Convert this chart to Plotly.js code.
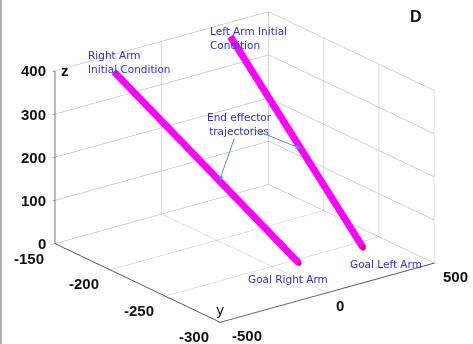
<!DOCTYPE html>
<html>
<head>
<meta charset="utf-8">
<script src="https://cdn.plot.ly/plotly-3.0.1.min.js"></script>
<style>html,body{margin:0;padding:0;background:#fff;}#plot{width:473px;height:344px;}</style>
</head>
<body>
<div id="plot"></div>
<script>
// Right arm end-effector trajectory (initial -> goal)
const rightX = [-301, 100];
const rightY = [-165, -255];
const rightZ = [389, 0];
// Left arm end-effector trajectory (initial -> goal)
const leftX = [243, 385];
const leftY = [-165, -258];
const leftZ = [396, 0];
// Axis ticks
const xTicks = [-500, 0, 500];
const yTicks = [-150, -200, -250, -300];
const zTicks = [0, 100, 200, 300, 400];
const xRange = [-500, 500];
const yRange = [-300, -150];
const zRange = [0, 400];

const magenta = '#ff00ff';
const traces = [
  {type:'scatter3d', mode:'lines', x:rightX, y:rightY, z:rightZ,
   line:{color:magenta, width:14}, hoverinfo:'skip', showlegend:false},
  {type:'scatter3d', mode:'lines', x:leftX, y:leftY, z:leftZ,
   line:{color:magenta, width:14}, hoverinfo:'skip', showlegend:false},
  {type:'scatter3d', mode:'markers', x:[rightX[1], leftX[1]], y:[rightY[1], leftY[1]], z:[rightZ[1], leftZ[1]],
   marker:{color:'#d0104a', size:3}, hoverinfo:'skip', showlegend:false}
];

function ax(range, ticks) {
  return {
    range: range, tickvals: ticks, autorange:false, showticklabels:false,
    showgrid:true, gridcolor:'#aaaaaa', gridwidth:1,
    showline:true, linecolor:'#555', linewidth:2,
    zeroline:false, showbackground:false, showspikes:false,
    ticks:'outside', ticklen:3, tickcolor:'#555',
    title:{text:''}
  };
}

const blue = '#2a2aff';
const annFont = {family:'DejaVu Sans, sans-serif', size:10.5, color:blue};
const tickFont = {family:'Liberation Sans, Arial, sans-serif', size:15, color:'#111', weight:'bold'};
const dir = [-0.565, -0.741, 0.363];
const L = 1.2;

// tick labels as horizontal text anchored to the axis edges
const tickAnns = [];
zTicks.forEach(v => tickAnns.push({x:xRange[0], y:yRange[1], z:v, text:String(v), showarrow:false,
  xanchor:'right', yanchor:'middle', xshift:-7, font:tickFont}));
yTicks.forEach(v => tickAnns.push({x:xRange[0], y:v, z:zRange[0], text:String(v), showarrow:false,
  xanchor:'right', yanchor:'middle', xshift:-9, yshift: v===yTicks[0] ? -15 : -14, font:tickFont}));
xTicks.forEach(v => tickAnns.push({x:v, y:yRange[0], z:zRange[0], text:String(v), showarrow:false,
  xanchor:'left', yanchor:'middle', xshift: v===xTicks[0] ? 10 : 7, yshift:-13, font:tickFont}));

const fR = 0.57, fL = 0.53;
const layout = {
  width:473, height:344,
  margin:{l:16, r:0, t:0, b:10},
  paper_bgcolor:'#fff',
  showlegend:false,
  scene:{
    domain:{x:[0,1], y:[0,1]},
    xaxis: ax(xRange, xTicks),
    yaxis: ax(yRange, yTicks),
    zaxis: ax(zRange, zTicks),
    aspectmode:'manual',
    aspectratio:{x:1.61, y:1.633, z:1.11},
    camera:{eye:{x:dir[0]*L, y:dir[1]*L, z:dir[2]*L}, up:{x:0,y:0,z:1}, center:{x:0,y:0,z:0},
            projection:{type:'orthographic'}},
    annotations: tickAnns.concat([
      {x:rightX[0], y:rightY[0], z:rightZ[0], text:'Right Arm<br>Initial Condition', showarrow:false,
       xanchor:'left', yanchor:'middle', xshift:-28, yshift:10, align:'left', font:annFont},
      {x:leftX[0], y:leftY[0], z:leftZ[0], text:'Left Arm Initial<br>Condition', showarrow:false,
       xanchor:'left', yanchor:'middle', xshift:-22, yshift:-2, align:'left', font:annFont},
      {x:rightX[1], y:rightY[1], z:rightZ[1], text:'Goal Right Arm', showarrow:false,
       xanchor:'left', yanchor:'middle', xshift:-53, yshift:-16, font:annFont},
      {x:leftX[1], y:leftY[1], z:leftZ[1], text:'Goal Left Arm', showarrow:false,
       xanchor:'left', yanchor:'middle', xshift:-15, yshift:-16, font:annFont},
      {x:rightX[0]+fR*(rightX[1]-rightX[0]), y:rightY[0]+fR*(rightY[1]-rightY[0]), z:rightZ[0]+fR*(rightZ[1]-rightZ[0]),
       text:'End effector<br>trajectories', showarrow:true,
       ax:20, ay:-57, arrowhead:2, arrowsize:1, arrowwidth:1, arrowcolor:'#5a8ccc', font:annFont},
      {x:leftX[0]+fL*(leftX[1]-leftX[0]), y:leftY[0]+fL*(leftY[1]-leftY[0]), z:leftZ[0]+fL*(leftZ[1]-leftZ[0]),
       text:' ', showarrow:true,
       ax:-52, ay:-21, arrowhead:2, arrowsize:1, arrowwidth:1, arrowcolor:'#5a8ccc', font:annFont},
      {x:xRange[0], y:yRange[1], z:zRange[1], text:'z', showarrow:false, xanchor:'left', xshift:4,
       font:{family:'Liberation Sans, Arial, sans-serif', size:15, color:'#111', weight:'bold'}},
      {x:xRange[0], y:yRange[0], z:zRange[0], text:'y', showarrow:false, yshift:12,
       font:{family:'DejaVu Sans, sans-serif', size:14, color:'#111'}}
    ])
  },
  annotations:[
    {xref:'paper', yref:'paper', x:0.875, y:0.95, xanchor:'center', yanchor:'middle', text:'<b>D</b>', showarrow:false,
     font:{family:'Liberation Sans, Arial, sans-serif', size:16, color:'#111'}}
  ],
  shapes:[
    {type:'line', xref:'paper', yref:'paper', x0:-0.033, x1:-0.033, y0:-0.03, y1:1.03,
     line:{color:'#999', width:1.5}}
  ]
};

Plotly.newPlot('plot', traces, layout, {displayModeBar:false});
</script>
</body>
</html>
